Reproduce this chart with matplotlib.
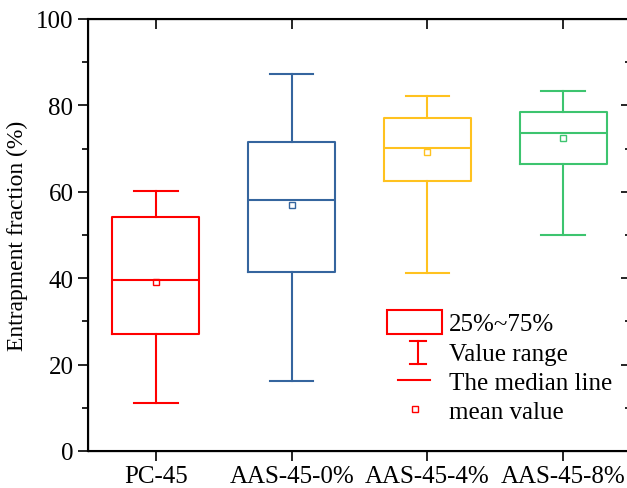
import matplotlib
matplotlib.use('Agg')
import matplotlib.pyplot as plt
from matplotlib.lines import Line2D
from matplotlib.patches import Rectangle
from matplotlib.legend_handler import HandlerBase
from matplotlib.ticker import MultipleLocator

plt.rcParams['font.family'] = ['Liberation Serif', 'DejaVu Serif']

# Data
groups = ['PC-45', 'AAS-45-0%', 'AAS-45-4%', 'AAS-45-8%']
whis_low = [11.1, 16.2, 41.3, 50.0]
q1 = [27.1, 41.4, 62.5, 66.4]
median = [39.6, 58.1, 70.1, 73.6]
q3 = [54.2, 71.5, 77.1, 78.5]
whis_high = [60.2, 87.3, 82.2, 83.3]
mean = [39.1, 56.9, 69.2, 72.5]
colors = ['#FF0000', '#35659E', '#FFC21F', '#3DC46F']

stats = []
for i in range(len(groups)):
    stats.append({'med': median[i], 'q1': q1[i], 'q3': q3[i],
                  'whislo': whis_low[i], 'whishi': whis_high[i],
                  'mean': mean[i], 'fliers': [], 'label': groups[i]})

fig = plt.figure(figsize=(6.27, 4.89), dpi=100)
ax = fig.add_axes([88 / 627, 37 / 489, 543 / 627, 432 / 489])

for i, st in enumerate(stats):
    c = colors[i]
    ax.bxp([st], positions=[i + 1], widths=0.64, capwidths=0.32,
           showmeans=True, showfliers=False, patch_artist=False,
           boxprops=dict(color=c, linewidth=1.5),
           whiskerprops=dict(color=c, linewidth=1.5),
           capprops=dict(color=c, linewidth=1.5),
           medianprops=dict(color=c, linewidth=1.5),
           meanprops=dict(marker='s', markerfacecolor='none', markeredgecolor=c,
                          markersize=4, markeredgewidth=1))

ax.set_xlim(0.5, 4.5)
ax.set_ylim(0, 100)
ax.set_xticks(range(1, len(groups) + 1))
ax.set_xticklabels(groups)
ax.yaxis.set_major_locator(MultipleLocator(20))
ax.yaxis.set_minor_locator(MultipleLocator(10))
ax.set_ylabel('Entrapment fraction (%)', fontsize=17, labelpad=6)
ax.tick_params(axis='both', which='major', labelsize=18, width=1.2, length=7)
ax.tick_params(axis='y', which='minor', width=1.2, length=4)
ax.tick_params(axis='x', which='major', direction='out', pad=3)
for sp in ax.spines.values():
    sp.set_linewidth(1.5)

# inward ticks on top and right
tx = ax.twiny()
tx.set_xlim(ax.get_xlim())
tx.set_xticks(range(1, len(groups) + 1))
tx.set_xticklabels([])
tx.tick_params(direction='in', length=7, width=1.2)
ty = ax.twinx()
ty.set_ylim(ax.get_ylim())
ty.yaxis.set_major_locator(MultipleLocator(20))
ty.yaxis.set_minor_locator(MultipleLocator(10))
ty.tick_params(which='major', direction='in', length=7, width=1.2, labelright=False)
ty.tick_params(which='minor', direction='in', length=4, width=1.2)


class LegendBox:
    def __init__(self, kind, color):
        self.kind = kind
        self.color = color


class KeyHandler(HandlerBase):
    def create_artists(self, legend, orig, xd, yd, w, h, fs, trans):
        c = orig.color
        x0, y0 = -xd, -yd
        if orig.kind == 'box':
            return [Rectangle((x0, y0), w, h, fill=False, edgecolor=c, linewidth=1.5,
                              transform=trans)]
        if orig.kind == 'range':
            cx = x0 + 0.56 * w
            hw = 0.15 * w
            ya, yb = y0 - 0.05 * h, y0 + 0.9 * h
            return [Line2D([cx, cx], [ya, yb], color=c, lw=1.5, transform=trans),
                    Line2D([cx - hw, cx + hw], [ya, ya], color=c, lw=1.5, transform=trans),
                    Line2D([cx - hw, cx + hw], [yb, yb], color=c, lw=1.5, transform=trans)]
        if orig.kind == 'median':
            cy = y0 + h / 2
            return [Line2D([x0 + 0.2 * w, x0 + 0.78 * w], [cy, cy], color=c, lw=1.5,
                           transform=trans)]
        return [Line2D([x0 + 0.5 * w], [y0 + h / 2], marker='s', markersize=4,
                       markerfacecolor='none', markeredgecolor=c, markeredgewidth=1,
                       transform=trans)]


keys = [LegendBox('box', '#FF0000'), LegendBox('range', '#FF0000'),
        LegendBox('median', '#FF0000'), LegendBox('mean', '#FF0000')]
key_labels = ['25%~75%', 'Value range', 'The median line', 'mean value']
ty.legend(keys, key_labels, handler_map={LegendBox: KeyHandler()},
          loc='upper left', bbox_to_anchor=(0.551, 0.327),
          frameon=False, fontsize=18, handlelength=2.2, handleheight=1.12,
          labelspacing=0.14, handletextpad=0.28, borderpad=0, borderaxespad=0)

fig.savefig('out.png', dpi=100)
